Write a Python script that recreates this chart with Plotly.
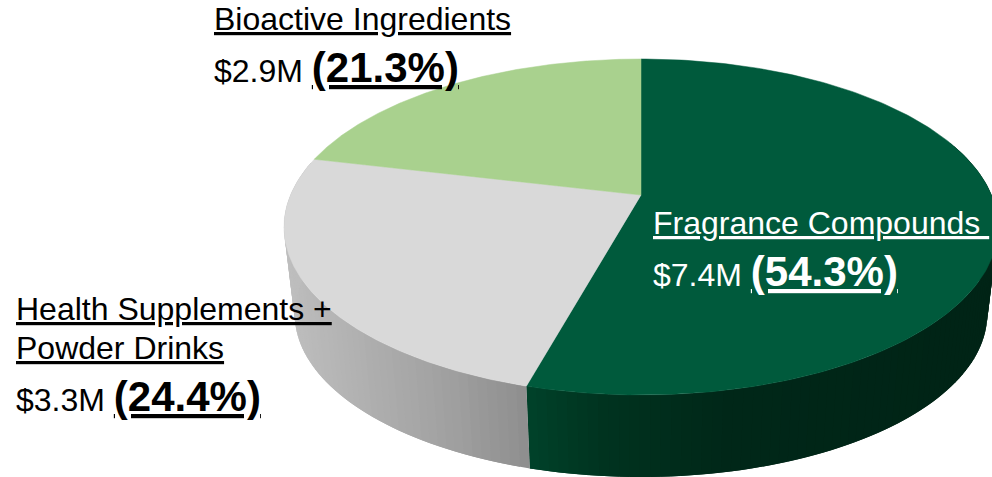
import numpy as np
import plotly.graph_objects as go

# --- data ---
categories = ["Fragrance Compounds", "Health Supplements +<br>Powder Drinks", "Bioactive Ingredients"]
amounts = ["$7.4M", "$3.3M", "$2.9M"]
shares = [54.3, 24.4, 21.3]

top_colors = ["#005A3C", "#D9D9D9", "#A9D18E"]
text_colors = ["#FFFFFF", "#000000", "#000000"]

# wall shading: (x pixel, r, g, b) stops per slice
wall_stops = {
    0: [(528, 0, 66, 42), (600, 0, 52, 32), (720, 0, 40, 25), (990, 0, 36, 22)],
    1: [(285, 190, 190, 190), (350, 178, 178, 178), (450, 160, 160, 160), (530, 142, 142, 142)],
}

# projection of the tilted disc onto the page
CX, APEX_Y, K, A, B = 641.0, 195.0, 0.1905, 161.9, 350.5
WALL_SCALE, WALL_APEX_Y = 0.97, 283.0


def rim(angle, scale=1.0, apex=APEX_Y):
    sx, cy = np.sin(angle), np.cos(angle)
    w = 1 + K * cy
    return CX + scale * B * sx / w, apex - scale * A * cy / w


def shade(slice_i, x):
    st = wall_stops[slice_i]
    xs = [s[0] for s in st]
    return "rgb(%d,%d,%d)" % tuple(np.interp(x, xs, [s[c] for s in st]) for c in (1, 2, 3))


edges = np.radians(np.cumsum([0] + shares) * 3.6)
fig = go.Figure()


# side wall, front part only; each strip overlaps the next one so no seams show
def add_wall(i, a0, a1, n):
    grid = np.linspace(a0, a1, n + 1)
    for k in range(n):
        p = grid[k]
        q = grid[min(k + 2, n)]
        xt0, yt0 = rim(p)
        xt1, yt1 = rim(q)
        xb0, yb0 = rim(p, WALL_SCALE, WALL_APEX_Y)
        xb1, yb1 = rim(q, WALL_SCALE, WALL_APEX_Y)
        col = shade(i, rim((grid[k] + grid[k + 1]) / 2)[0])
        fig.add_trace(go.Scatter(x=[xt0, xt1, xb1, xb0, xt0], y=[yt0, yt1, yb1, yb0, yt0],
                                 mode="lines", fill="toself", fillcolor=col,
                                 line=dict(width=0), hoverinfo="skip"))


add_wall(0, np.radians(70), edges[1], 90)
add_wall(1, edges[1], np.radians(282), 60)

# top faces
for i in range(3):
    a = np.linspace(edges[i], edges[i + 1], 200)
    rx, ry = rim(a)
    fig.add_trace(go.Scatter(x=np.r_[CX, rx, CX], y=np.r_[APEX_Y, ry, APEX_Y],
                             mode="lines", fill="toself", fillcolor=top_colors[i],
                             line=dict(color=top_colors[i], width=0.5),
                             name=categories[i].replace("<br>", " "), hoverinfo="name"))

# labels, one annotation per text line
label_pos = [(653, [223, 271]), (16, [309, 348, 396]), (214, [19, 67])]
for i, (x, ys) in enumerate(label_pos):
    lines = ["<u>%s</u>" % s for s in categories[i].split("<br>")]
    if i == 0:
        lines[0] = "<u>%s&nbsp;</u>" % categories[i]
    lines.append('%s <span style="font-size:42px"><b><u>(%.1f%%)</u></b></span>' % (amounts[i], shares[i]))
    for y, t in zip(ys, lines):
        fig.add_annotation(x=x, y=y, text=t, showarrow=False, xanchor="left", yanchor="middle",
                           align="left", borderpad=0, borderwidth=0,
                           font=dict(family="Liberation Sans", size=32, color=text_colors[i]))

fig.update_layout(width=992, height=477, margin=dict(l=0, r=0, t=0, b=0),
                  paper_bgcolor="white", plot_bgcolor="white", showlegend=False,
                  xaxis=dict(range=[0, 992], visible=False, fixedrange=True),
                  yaxis=dict(range=[477, 0], visible=False, fixedrange=True))
page_fix = (
    "document.body.style.margin='0';document.body.style.overflow='hidden';"
    "document.querySelectorAll('.annotation-text, .annotation-text tspan').forEach(function(t){"
    "t.style.setProperty('text-decoration-skip-ink','none');"
    "if(t.tagName==='tspan' && (t.style.fontWeight==='bold' || (t.parentNode.style && t.parentNode.style.fontWeight==='bold')))"
    "{t.style.setProperty('text-decoration-thickness','3px');}"
    "});"
)
fig.write_html("out.html", config={"displayModeBar": False}, post_script=page_fix)
